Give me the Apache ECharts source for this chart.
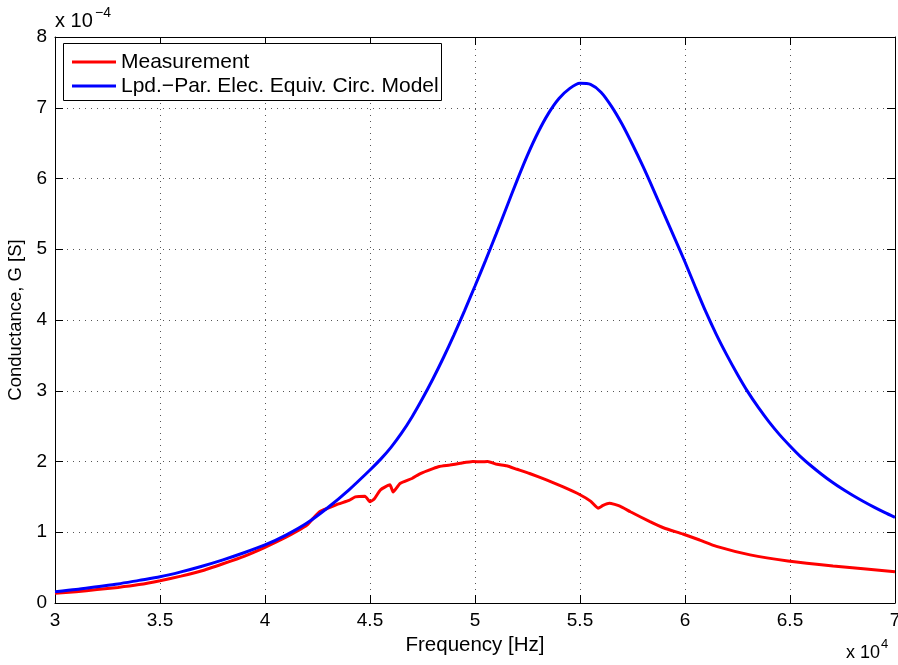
<!DOCTYPE html>
<html><head><meta charset="utf-8">
<script src="https://cdn.jsdelivr.net/npm/echarts@6/dist/echarts.min.js"></script>
<style>html,body{margin:0;padding:0;background:#fff}#c{width:898px;height:665px}</style>
</head><body><div id="c"></div>
<script>
// Measurement (frequency in Hz, conductance in S)
const measFreq = [30000,31000,32000,33000,34000,35000,36000,37000,38000,39000,40000,41000,41500,42000,42300,42600,43000,43500,44000,44300,44760,45000,45200,45500,45950,46100,46430,47000,47400,48000,48300,48800,49300,49900,50300,50600,51050,51500,52000,52600,53400,54200,55000,55500,55860,56100,56400,56900,57400,58330,59000,59900,60700,61500,63100,64900,67050,70000];
const measG = [0.137e-4,0.16e-4,0.19e-4,0.22e-4,0.26e-4,0.315e-4,0.38e-4,0.455e-4,0.555e-4,0.66e-4,0.787e-4,0.93e-4,1.01e-4,1.10e-4,1.20e-4,1.29e-4,1.34e-4,1.40e-4,1.45e-4,1.50e-4,1.51e-4,1.43e-4,1.47e-4,1.60e-4,1.67e-4,1.57e-4,1.69e-4,1.76e-4,1.83e-4,1.90e-4,1.93e-4,1.95e-4,1.975e-4,2.0e-4,1.995e-4,2.0e-4,1.96e-4,1.94e-4,1.89e-4,1.83e-4,1.74e-4,1.64e-4,1.53e-4,1.44e-4,1.34e-4,1.38e-4,1.41e-4,1.37e-4,1.29e-4,1.15e-4,1.06e-4,0.975e-4,0.89e-4,0.80e-4,0.68e-4,0.594e-4,0.523e-4,0.443e-4];
// Lumped-parameter electrical equivalent circuit model
const modelFreq = [30000,31000,32000,33000,34000,35000,36000,37000,38000,39000,40000,41000,42000,43000,44000,45000,45500,46000,46500,47000,47500,48000,48500,49000,49500,50000,50500,51000,51500,52000,52500,53000,53500,54000,54500,55000,55500,56000,56500,57000,57500,58000,58500,59000,59500,60000,60500,61000,61500,62000,62500,63000,63500,64000,64500,65000,65500,66000,66500,67000,67500,68000,68500,69000,69500,70000];
const modelG = [0.16e-4,0.19e-4,0.23e-4,0.27e-4,0.32e-4,0.37e-4,0.44e-4,0.52e-4,0.61e-4,0.71e-4,0.82e-4,0.96e-4,1.13e-4,1.35e-4,1.60e-4,1.88e-4,2.03e-4,2.20e-4,2.40e-4,2.63e-4,2.89e-4,3.17e-4,3.47e-4,3.79e-4,4.13e-4,4.48e-4,4.84e-4,5.21e-4,5.59e-4,5.97e-4,6.33e-4,6.65e-4,6.92e-4,7.13e-4,7.27e-4,7.345e-4,7.33e-4,7.22e-4,7.02e-4,6.77e-4,6.48e-4,6.17e-4,5.84e-4,5.50e-4,5.16e-4,4.82e-4,4.46e-4,4.11e-4,3.79e-4,3.50e-4,3.23e-4,2.98e-4,2.76e-4,2.56e-4,2.38e-4,2.22e-4,2.07e-4,1.94e-4,1.82e-4,1.71e-4,1.61e-4,1.52e-4,1.435e-4,1.355e-4,1.28e-4,1.21e-4];
const seriesNames = ['Measurement','Lpd.\u2212Par. Elec. Equiv. Circ. Model'];
const seriesColors = ['#ff0000','#0000ff'];
const xTickLabels = ['3','3.5','4','4.5','5','5.5','6','6.5','7'];
const yTickLabels = ['0','1','2','3','4','5','6','7','8'];

const FONT = '"Liberation Sans", Arial, Helvetica, sans-serif';
const chart = echarts.init(document.getElementById('c'), null, {renderer:'canvas'});
const gridLine = {show:true, lineStyle:{color:'#555', type:[1,5], width:1}};
const tick = {show:true, inside:true, length:8, lineStyle:{color:'#000'}};

// legend drawn as graphic (box + line samples + real text)
const legendGraphic = [{type:'rect', left:63, top:43, z:100,
  shape:{width:378, height:57}, style:{fill:'#fff', stroke:'#000', lineWidth:1}}];
seriesNames.forEach((n,i)=>{
  const cy = 62 + i*24;
  legendGraphic.push({type:'line', z:101, shape:{x1:72, y1:cy, x2:116, y2:cy},
    style:{stroke:seriesColors[i], lineWidth:3}});
  legendGraphic.push({type:'text', z:101, x:121, y:cy,
    style:{text:n, font:'21px '+FONT, fill:'#000', textVerticalAlign:'middle', verticalAlign:'middle'}});
});

chart.setOption({
  animation:false,
  backgroundColor:'#fff',
  grid:{left:55, right:3, top:37, bottom:62, containLabel:false, outerBoundsMode:'none'},
  xAxis:[{
    type:'value', min:30000, max:70000, interval:5000,
    axisLine:{show:true, onZero:false, lineStyle:{color:'#000', width:1}},
    axisTick:tick, splitLine:gridLine,
    axisLabel:{color:'#000', fontFamily:FONT, fontSize:19, margin:8,
      formatter:(v)=>xTickLabels[Math.round((v-30000)/5000)]},
    name:'Frequency [Hz]', nameLocation:'middle', nameGap:29,
    nameTextStyle:{color:'#000', fontFamily:FONT, fontSize:20.5}
  },{
    type:'value', position:'top', min:30000, max:70000, interval:5000,
    axisLine:{show:true, onZero:false, lineStyle:{color:'#000', width:1}},
    axisTick:tick, axisLabel:{show:false}, splitLine:{show:false}
  }],
  yAxis:[{
    type:'value', min:0, max:8e-4, interval:1e-4,
    axisLine:{show:true, onZero:false, lineStyle:{color:'#000', width:1}},
    axisTick:tick, splitLine:gridLine,
    axisLabel:{color:'#000', fontFamily:FONT, fontSize:19, margin:8,
      formatter:(v)=>yTickLabels[Math.round(v*1e4)]},
    name:'Conductance, G [S]', nameLocation:'middle', nameGap:26, nameRotate:90,
    nameTextStyle:{color:'#000', fontFamily:FONT, fontSize:18.5}
  },{
    type:'value', position:'right', min:0, max:8e-4, interval:1e-4,
    axisLine:{show:true, onZero:false, lineStyle:{color:'#000', width:1}},
    axisTick:tick, axisLabel:{show:false}, splitLine:{show:false}
  }],
  graphic:[
    {type:'text', left:55, top:11, style:{text:'x 10', font:'20px '+FONT, fill:'#000'}},
    {type:'text', left:95, top:6, style:{text:'\u22124', font:'14px '+FONT, fill:'#000'}},
    {type:'text', left:846, top:644, style:{text:'x 10', font:'18px '+FONT, fill:'#000'}},
    {type:'text', left:881, top:638, style:{text:'4', font:'13px '+FONT, fill:'#000'}}
  ].concat(legendGraphic),
  series:[
    {name:seriesNames[0], type:'line', xAxisIndex:0, yAxisIndex:0, showSymbol:false,
     smooth:0.15, lineStyle:{color:seriesColors[0], width:3}, itemStyle:{color:seriesColors[0]},
     data:measFreq.map((f,i)=>[f, measG[i]])},
    {name:seriesNames[1], type:'line', xAxisIndex:0, yAxisIndex:0, showSymbol:false,
     smooth:0.25, lineStyle:{color:seriesColors[1], width:3}, itemStyle:{color:seriesColors[1]},
     data:modelFreq.map((f,i)=>[f, modelG[i]])}
  ]
});
</script></body></html>
